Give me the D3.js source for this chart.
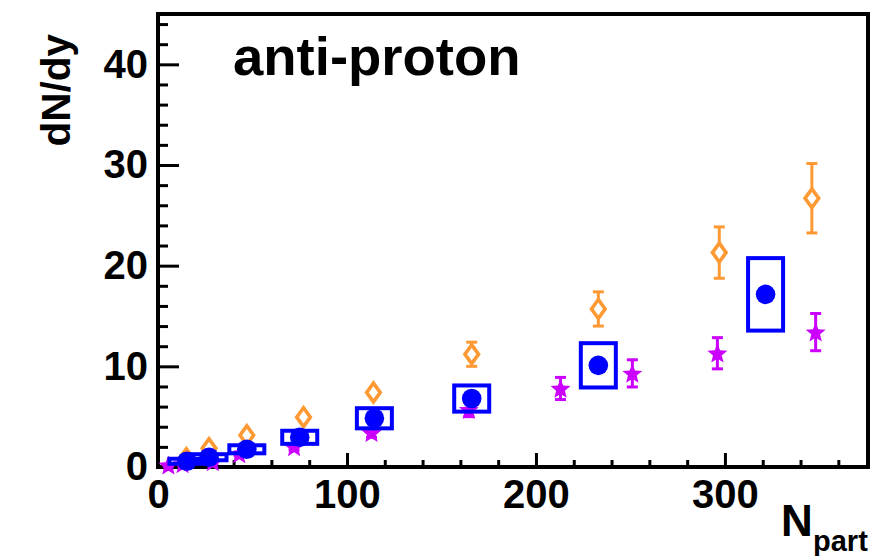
<!DOCTYPE html>
<html>
<head>
<meta charset="utf-8">
<script src="https://cdn.jsdelivr.net/npm/d3@7.9.0/dist/d3.min.js"></script>
<style>
  body { margin: 0; background: #fff; }
  text { font-family: "Liberation Sans", Arial, Helvetica, sans-serif; font-weight: bold; }
</style>
</head>
<body>
<div id="chart"></div>
<script>
// ─── DATA ────────────────────────────────────────────────────────────────────
// blue filled circles + systematic boxes
const npartBlue = [15.3, 27, 47, 75, 114.5, 166, 233, 321.5];
const dndyBlue  = [0.57, 0.97, 1.76, 2.95, 4.84, 6.8, 10.1, 17.15];
const sysBlue   = [0.25, 0.3, 0.4, 0.65, 1.0, 1.3, 2.2, 3.6];

// orange open diamonds
const npartOrange = [15, 27, 47, 77, 114, 166, 233, 297, 346];
const dndyOrange  = [0.87, 1.86, 3.15, 4.95, 7.4, 11.2, 15.7, 21.3, 26.7];
const errOrange   = [0.15, 0.2, 0.3, 0.45, 0.6, 1.2, 1.7, 2.55, 3.45];

// magenta stars
const npartStar = [5.5, 13, 29, 43, 72, 113, 164.5, 213, 251, 296, 348];
const dndyStar  = [0.17, 0.3, 0.5, 1.3, 2.0, 3.4, 5.7, 7.8, 9.3, 11.3, 13.4];
const errStar   = [0.1, 0.1, 0.15, 0.2, 0.3, 0.45, 0.7, 1.1, 1.35, 1.55, 1.85];

const xMajor = [0, 100, 200, 300];
const yMajor = [0, 10, 20, 30, 40];

// ─── LAYOUT ──────────────────────────────────────────────────────────────────
const W = 876, H = 556;
const frame = { left: 158, right: 868, top: 14, bottom: 467 };

const BLUE = '#0000ff', ORANGE = '#ff9933', MAGENTA = '#cc00ff';

const svg = d3.select('#chart').append('svg')
  .attr('width', W).attr('height', H);

const x = d3.scaleLinear().domain([0, 375.7]).range([frame.left, frame.right]);
const y = d3.scaleLinear().domain([0, 45]).range([frame.bottom, frame.top]);

// ─── AXES ────────────────────────────────────────────────────────────────────
const xMinor = d3.range(0, 376, 20).filter(v => !xMajor.includes(v));
const yMinor = d3.range(0, 45, 2).filter(v => !yMajor.includes(v));

function styleAxis(g) {
  g.select('.domain').remove();
  g.selectAll('line').attr('stroke', '#000').attr('stroke-width', 3);
  g.selectAll('text').attr('fill', '#000').style('font-size', '40px');
}

svg.append('g')
  .attr('transform', `translate(0,${frame.bottom})`)
  .call(d3.axisBottom(x).tickValues(xMinor).tickSize(-7).tickFormat(''))
  .call(styleAxis);
svg.append('g')
  .attr('transform', `translate(0,${frame.bottom})`)
  .call(d3.axisBottom(x).tickValues(xMajor).tickSize(-14).tickPadding(13).tickFormat(d3.format('d')))
  .call(styleAxis);

svg.append('g')
  .attr('transform', `translate(${frame.left},0)`)
  .call(d3.axisLeft(y).tickValues(yMinor).tickSize(-10).tickFormat(''))
  .call(styleAxis);
svg.append('g')
  .attr('transform', `translate(${frame.left},0)`)
  .call(d3.axisLeft(y).tickValues(yMajor).tickSize(-21).tickPadding(10).tickFormat(d3.format('d')))
  .call(styleAxis);

// frame
svg.append('rect')
  .attr('x', frame.left).attr('y', frame.top)
  .attr('width', frame.right - frame.left).attr('height', frame.bottom - frame.top)
  .attr('fill', 'none').attr('stroke', '#000').attr('stroke-width', 4);

// axis titles
svg.append('text')
  .attr('transform', 'translate(70,34) rotate(-90)')
  .attr('text-anchor', 'end')
  .style('font-size', '40.5px')
  .text('dN/dy');

svg.append('text').attr('x', 781).attr('y', 536).style('font-size', '44px').text('N');
svg.append('text').attr('x', 813).attr('y', 551).style('font-size', '29px').text('part');

svg.append('text').attr('x', 233).attr('y', 75).style('font-size', '54.5px').text('anti-proton');

// ─── MARKS ───────────────────────────────────────────────────────────────────
function errorBars(xs, ys, es, color, half) {
  const g = svg.append('g').attr('stroke', color).attr('stroke-width', 3).attr('fill', 'none');
  xs.forEach((xv, i) => {
    const cx = x(xv), cy = y(ys[i]);
    const yHi = y(ys[i] + es[i]), yLo = y(ys[i] - es[i]);
    if (cy - yHi > half) {
      g.append('line').attr('x1', cx).attr('x2', cx).attr('y1', cy - half).attr('y2', yHi);
      g.append('line').attr('x1', cx - 5.5).attr('x2', cx + 5.5).attr('y1', yHi).attr('y2', yHi);
    }
    if (yLo - cy > half) {
      g.append('line').attr('x1', cx).attr('x2', cx).attr('y1', cy + half).attr('y2', yLo);
      g.append('line').attr('x1', cx - 5.5).attr('x2', cx + 5.5).attr('y1', yLo).attr('y2', yLo);
    }
  });
}

// orange diamonds
errorBars(npartOrange, dndyOrange, errOrange, ORANGE, 10);
svg.append('g').selectAll('path')
  .data(npartOrange)
  .join('path')
    .attr('transform', (d, i) => `translate(${x(d)},${y(dndyOrange[i])})`)
    .attr('d', 'M0,-9.4L6.8,0L0,9.4L-6.8,0Z')
    .attr('fill', 'none')
    .attr('stroke', ORANGE)
    .attr('stroke-width', 3.6);

// magenta stars (fat 5-point star, like ROOT marker 29)
const starPath = d3.lineRadial()
  .angle((d, i) => i * Math.PI / 5)
  .radius((d, i) => i % 2 ? 4.6 : 10.5)
  .curve(d3.curveLinearClosed)(d3.range(10));
errorBars(npartStar, dndyStar, errStar, MAGENTA, 0);
svg.append('g').selectAll('path')
  .data(npartStar)
  .join('path')
    .attr('transform', (d, i) => `translate(${x(d)},${y(dndyStar[i]) + 0.8})`)
    .attr('d', starPath)
    .attr('fill', MAGENTA);

// blue systematic boxes
const boxHalf = 17.5;
svg.append('g').selectAll('rect')
  .data(npartBlue)
  .join('rect')
    .attr('x', d => x(d) - boxHalf)
    .attr('y', (d, i) => y(dndyBlue[i] + sysBlue[i]))
    .attr('width', boxHalf * 2)
    .attr('height', (d, i) => y(dndyBlue[i] - sysBlue[i]) - y(dndyBlue[i] + sysBlue[i]))
    .attr('fill', 'none')
    .attr('stroke', BLUE)
    .attr('stroke-width', 4);

// blue circles
svg.append('g').selectAll('circle')
  .data(npartBlue)
  .join('circle')
    .attr('cx', d => x(d))
    .attr('cy', (d, i) => y(dndyBlue[i]))
    .attr('r', 9.8)
    .attr('fill', BLUE);
</script>
</body>
</html>
